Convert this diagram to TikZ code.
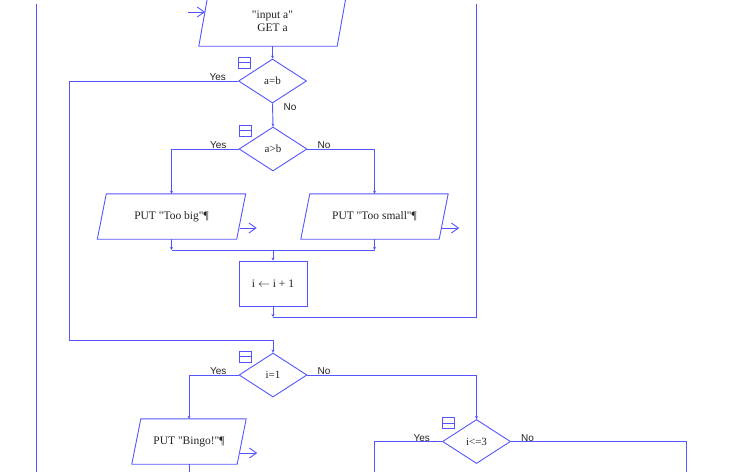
\documentclass[tikz,border=0pt]{standalone}
\usepackage{fontspec}
\setmainfont{Liberation Serif}
\newfontfamily\tserif{Liberation Serif}
\newfontfamily\lsans{Liberation Sans}
\usetikzlibrary{shapes.geometric,arrows.meta,calc}
\definecolor{fc}{RGB}{85,85,255}
\definecolor{tc}{RGB}{35,35,35}
\tikzset{
 flow/.style={draw=fc, line width=0.9pt},
 tip/.style={-{Stealth[length=3pt,width=3pt]}},
 outarrow/.style={draw=fc, line width=0.9pt, -{Straight Barb[length=7pt,width=10pt,line width=0.9pt]}},
 dec/.style={diamond, draw=fc, line width=0.9pt, minimum width=68pt, minimum height=44pt, inner sep=0pt, font=\tserif\fontsize{11}{13}\selectfont, text=tc},
 iobox/.style={draw=none, minimum width=#1, minimum height=45pt, inner sep=0pt, align=center, font=\tserif\fontsize{11.5}{13}\selectfont, text=tc},
 procbox/.style={rectangle, draw=fc, line width=0.9pt, minimum width=68pt, minimum height=45pt, inner sep=0pt, font=\tserif\fontsize{11.5}{13}\selectfont, text=tc},
 lbl/.style={font=\lsans\fontsize{10}{12}\selectfont, text=tc, inner sep=0pt},
 icon/.style={draw=fc, line width=0.8pt, minimum width=12pt, minimum height=11pt, inner sep=0pt, anchor=north west,
   path picture={\draw[fc,line width=0.8pt] (path picture bounding box.west) -- (path picture bounding box.east);}},
}
\newcommand\pgram[1]{\draw[flow] ([xshift=9pt]#1.north west) -- (#1.north east) -- ([xshift=-9pt]#1.south east) -- (#1.south west) -- cycle;}
\newcommand\yeslbl[1]{\node[lbl, anchor=base east] at ([xshift=-12pt,yshift=0.5pt]#1.west) {Yes};}
\newcommand\nolbl[1]{\node[lbl, anchor=base west] at ([xshift=10pt,yshift=0.5pt]#1.east) {No};}
\newcommand\decicon[1]{\node[icon] at ([yshift=2pt]#1.west |- #1.north) {};}
\begin{document}
\begin{tikzpicture}[x=1pt,y=-1pt]
\useasboundingbox (0,0) rectangle (736,472);
\clip (0,0) rectangle (736,472);
\fill[white] (0,0) rectangle (736,472);

% nodes
\node[iobox=147pt, minimum height=50pt] (inp) at (272.5,21) {"input a"\\GET a};
\pgram{inp}
\node[dec] (ab) at (272.5,81) {a=b};
\node[dec] (agb) at (273,149) {a>b};
\node[iobox=148pt] (big) at (171.5,216.5) {PUT "Too big"¶};
\pgram{big}
\node[iobox=147pt] (small) at (374.5,216.5) {PUT "Too small"¶};
\pgram{small}
\node[procbox] (inc) at (273,283.5) {i \ensuremath{\leftarrow} i + 1};
\node[dec] (i1) at (273,375) {i=1};
\node[iobox=114pt] (bingo) at (189,441.5) {PUT "Bingo!"¶};
\pgram{bingo}
\node[dec] (le3) at (476.5,441.5) {i<=3};

% icons
\decicon{ab}
\decicon{agb}
\decicon{i1}
\decicon{le3}

% coordinates
\coordinate (entry) at (188,12);
\coordinate (entryend) at (205,12);
\coordinate (lefttop) at (36,4);
\coordinate (leftbot) at (36,472);
\coordinate (looptop) at (476,4);
\coordinate (incbot) at (273,317);
\coordinate (jn) at (273,250);
\coordinate (yesab) at (69,340);
\coordinate (bingoout) at (189,472);
\coordinate (le3yes) at (374,472);
\coordinate (le3no) at (686,472);

% connectors
\draw[outarrow] (entry) -- (entryend);
\draw[flow] (lefttop) -- (leftbot);
\draw[flow,tip] (inp.south) -- (ab.north);
\draw[flow,tip] (ab.west) -| (yesab) -| (i1.north);
\draw[flow,tip] (ab.south) -- (agb.north);
\draw[flow,tip] (agb.west) -| (big.north);
\draw[flow,tip] (agb.east) -| (small.north);
\draw[flow,tip] (big.south) -- (big.south |- jn);
\draw[flow,tip] (small.south) -- (small.south |- jn);
\draw[flow] (big.south |- jn) -- (small.south |- jn);
\draw[flow,tip] (jn) -- (inc.north);
\draw[flow,tip] (inc.south) -- (incbot);
\draw[flow] (incbot) -| (looptop);
\draw[flow,tip] (i1.west) -| (bingo.north);
\draw[flow,tip] (i1.east) -| (le3.north);
\draw[flow] (bingo.south) -- (bingoout);
\draw[flow] (le3.west) -| (le3yes);
\draw[flow] (le3.east) -| (le3no);

% output arrows
\draw[outarrow] ($(big.east)+(-6,11.5)$) -- ++(17,0);
\draw[outarrow] ($(small.east)+(-6,11.5)$) -- ++(17,0);
\draw[outarrow] ($(bingo.east)+(-6,11.5)$) -- ++(17,0);

% labels
\yeslbl{ab}
\node[lbl, anchor=base west] at ([xshift=11pt,yshift=-7pt]ab.south) {No};
\yeslbl{agb}
\nolbl{agb}
\yeslbl{i1}
\nolbl{i1}
\yeslbl{le3}
\nolbl{le3}
\end{tikzpicture}
\end{document}
